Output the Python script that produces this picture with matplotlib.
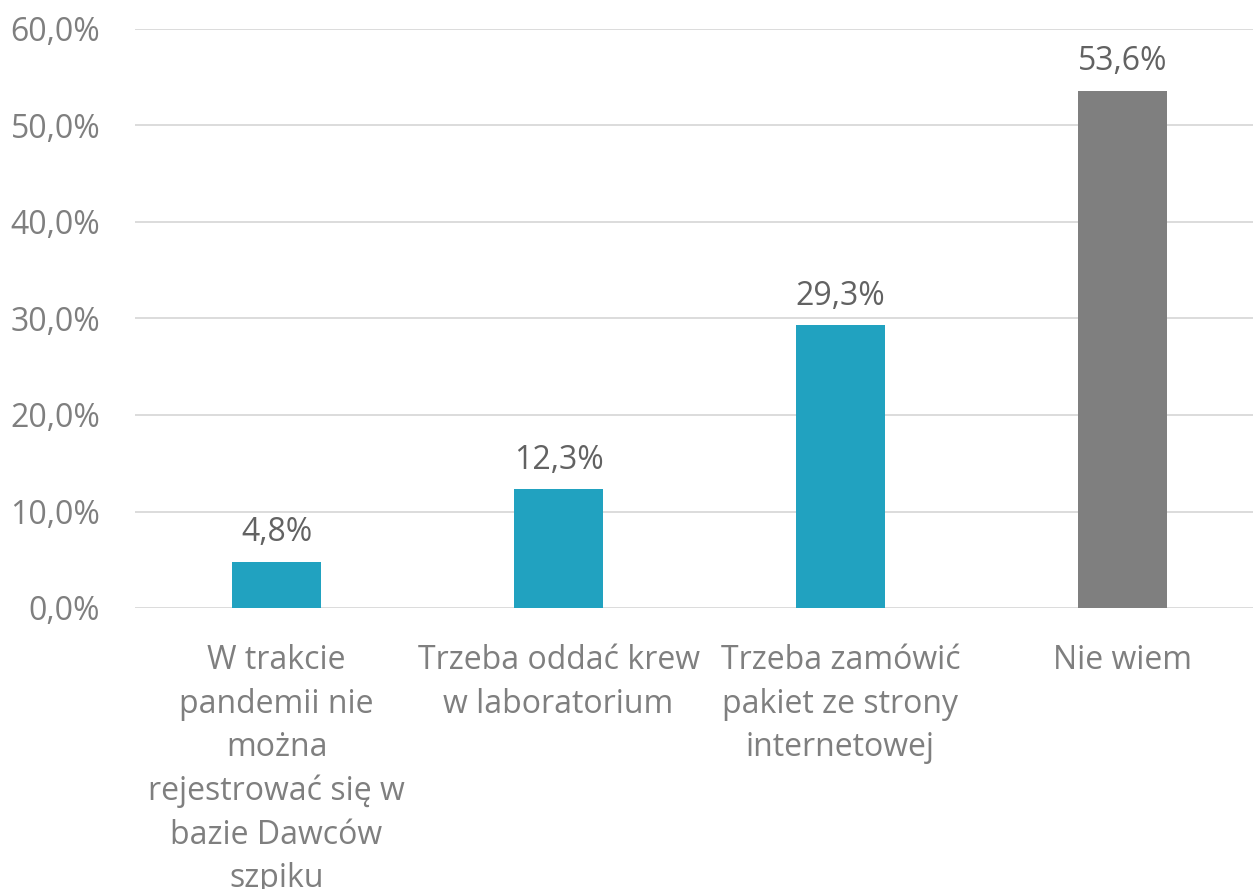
import matplotlib
matplotlib.use("Agg")
import matplotlib.pyplot as plt

categories = ["W trakcie\npandemii nie\nmożna\nrejestrować się w\nbazie Dawców\nszpiku",
              "Trzeba oddać krew\nw laboratorium",
              "Trzeba zamówić\npakiet ze strony\ninternetowej",
              "Nie wiem"]
values = [4.8, 12.3, 29.3, 53.6]
colors = ["#21A2C0", "#21A2C0", "#21A2C0", "#7F7F7F"]
yticks = [0, 10, 20, 30, 40, 50, 60]

plt.rcParams['font.family'] = ['Open Sans', 'DejaVu Sans']

fig = plt.figure(figsize=(12.53, 8.89), dpi=100)
ax = fig.add_axes([135/1253, (889-608)/889, 1 - 135/1253, (608-29)/889])

x = list(range(len(categories)))
bars = ax.bar(x, values, width=0.316, color=colors, zorder=3)

for xi, v in zip(x, values):
    ax.annotate(f"{v:.1f}%".replace(".", ","), (xi, v), xytext=(0, 9),
                textcoords="offset points", ha="center", va="bottom",
                fontsize=23, color="#626262")

ax.set_ylim(0, 60)
ax.set_xlim(-0.502, 3.463)
ax.set_yticks(yticks)
ax.set_yticklabels([f"{t:.1f}%".replace(".", ",") for t in yticks])
ax.set_xticks(x)
ax.set_xticklabels(categories, linespacing=1.42)
ax.tick_params(axis="y", length=0, pad=25, labelsize=23, labelcolor="#7F7F7F")
ax.tick_params(axis="x", length=0, pad=26, labelsize=23, labelcolor="#7F7F7F")
ax.grid(axis="y", color="#D9D9D9", linewidth=1.3, zorder=0)
for s in ax.spines.values():
    s.set_visible(False)

fig.savefig("out.png", dpi=100)
